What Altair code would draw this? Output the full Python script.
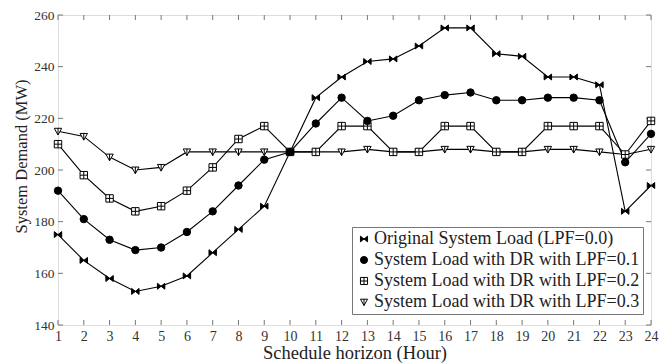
import altair as alt
import pandas as pd

hours = list(range(1, 25))
orig = [175, 165, 158, 153, 155, 159, 168, 177, 186, 207, 228, 236, 242, 243, 248, 255, 255, 245, 244, 236, 236, 233, 184, 194]
lpf1 = [192, 181, 173, 169, 170, 176, 184, 194, 204, 207, 218, 228, 219, 221, 227, 229, 230, 227, 227, 228, 228, 227, 203, 214]
lpf2 = [210, 198, 189, 184, 186, 192, 201, 212, 217, 207, 207, 217, 217, 207, 207, 217, 217, 207, 207, 217, 217, 217, 206, 219]
lpf3 = [215, 213, 205, 200, 201, 207, 207, 207, 207, 207, 207, 207, 208, 207, 207, 208, 208, 207, 207, 208, 208, 207, 206, 208]
series_names = [
    "Original System Load (LPF=0.0)",
    "System Load with DR with LPF=0.1",
    "System Load with DR with LPF=0.2",
    "System Load with DR with LPF=0.3",
]
y_ticks = [140, 160, 180, 200, 220, 240, 260]

rows = []
for name, vals in zip(series_names, [orig, lpf1, lpf2, lpf3]):
    for h, v in zip(hours, vals):
        rows.append({"hour": h, "value": v, "series": name})
df = pd.DataFrame(rows)
xt = pd.DataFrame({"hour": hours})
yt = pd.DataFrame({"value": y_ticks})

W, H = 593, 310
FONT = "Liberation Serif"

shapes = [
    "M-1,-0.8L1,0.8L1,-0.8L-1,0.8Z",
    "circle",
    "M-1,-1H1V1H-1Z M-1,0H1 M0,-1V1",
    "M-1,-0.8H1L0,1Z M0,-0.8V1",
]
fills = ["black", "black", "white", "white"]

xs = alt.Scale(domain=[1, 24], nice=False)
ys = alt.Scale(domain=[140, 260], nice=False)

x_axis = alt.Axis(
    values=hours, title="Schedule horizon (Hour)", tickSize=0, labelPadding=4,
    labelFontSize=14, labelOverlap=False, titleFontSize=18.5,
    titleY=33, titleBaseline="alphabetic", domain=False, grid=False,
    labelFlush=False)
y_axis = alt.Axis(
    values=y_ticks, title="System Demand (MW)", tickSize=0, labelPadding=4,
    labelFontSize=13.5, labelOverlap=False, titleFontSize=16.5,
    titleX=-37, titleY=141, titleAngle=270, titleAlign="center",
    titleBaseline="middle", domain=False, grid=False, labelFlush=False)

x_enc = alt.X("hour:Q", scale=xs, axis=x_axis)
y_enc = alt.Y("value:Q", scale=ys, axis=y_axis)

lines = alt.Chart(df).mark_line(color="black", strokeWidth=1.1).encode(
    x=x_enc, y=y_enc, detail="series:N")

leg = alt.Legend(title=None, orient="none", legendX=294, legendY=212,
                 labelFont=FONT, labelFontSize=18, labelColor="#222", labelLimit=400,
                 strokeColor="#777", fillColor="white", padding=3,
                 rowPadding=3, symbolSize=50, labelOffset=1, symbolStrokeWidth=1)

points = alt.Chart(df).mark_point(filled=True, strokeWidth=1,
                                  size=55, opacity=1).encode(
    x=x_enc, y=y_enc,
    shape=alt.Shape("series:N", scale=alt.Scale(domain=series_names, range=shapes), legend=leg),
    fill=alt.Fill("series:N", scale=alt.Scale(domain=series_names, range=fills), legend=leg),
    stroke=alt.Stroke("series:N", scale=alt.Scale(domain=series_names, range=["black"] * 4), legend=leg),
    order=alt.Order("series:N", sort="descending"),
)

tick_col = "#777"
xb = alt.Chart(xt).mark_rule(color=tick_col).encode(x=x_enc, y=alt.value(H), y2=alt.value(H - 5))
xtp = alt.Chart(xt).mark_rule(color=tick_col).encode(x=x_enc, y=alt.value(0), y2=alt.value(5))
yl = alt.Chart(yt).mark_rule(color=tick_col).encode(y=y_enc, x=alt.value(0), x2=alt.value(5))
yr = alt.Chart(yt).mark_rule(color=tick_col).encode(y=y_enc, x=alt.value(W - 5), x2=alt.value(W))

chart = alt.layer(lines, xb, xtp, yl, yr, points).properties(
    width=W, height=H,
    autosize=alt.AutoSizeParams(type="none"),
    padding={"left": 50, "top": 7, "right": 10, "bottom": 39},
).configure_view(stroke="#888", strokeWidth=1.5).configure(
    background="white"
).configure_axis(
    labelFont=FONT, titleFont=FONT, labelColor="#333", titleColor="#222",
    titleFontWeight="normal", labelOverlap=False
).configure_legend(labelFont=FONT, labelFontSize=18, labelLimit=400)

chart.save("out.html", embed_options={"renderer": "svg", "actions": False})
